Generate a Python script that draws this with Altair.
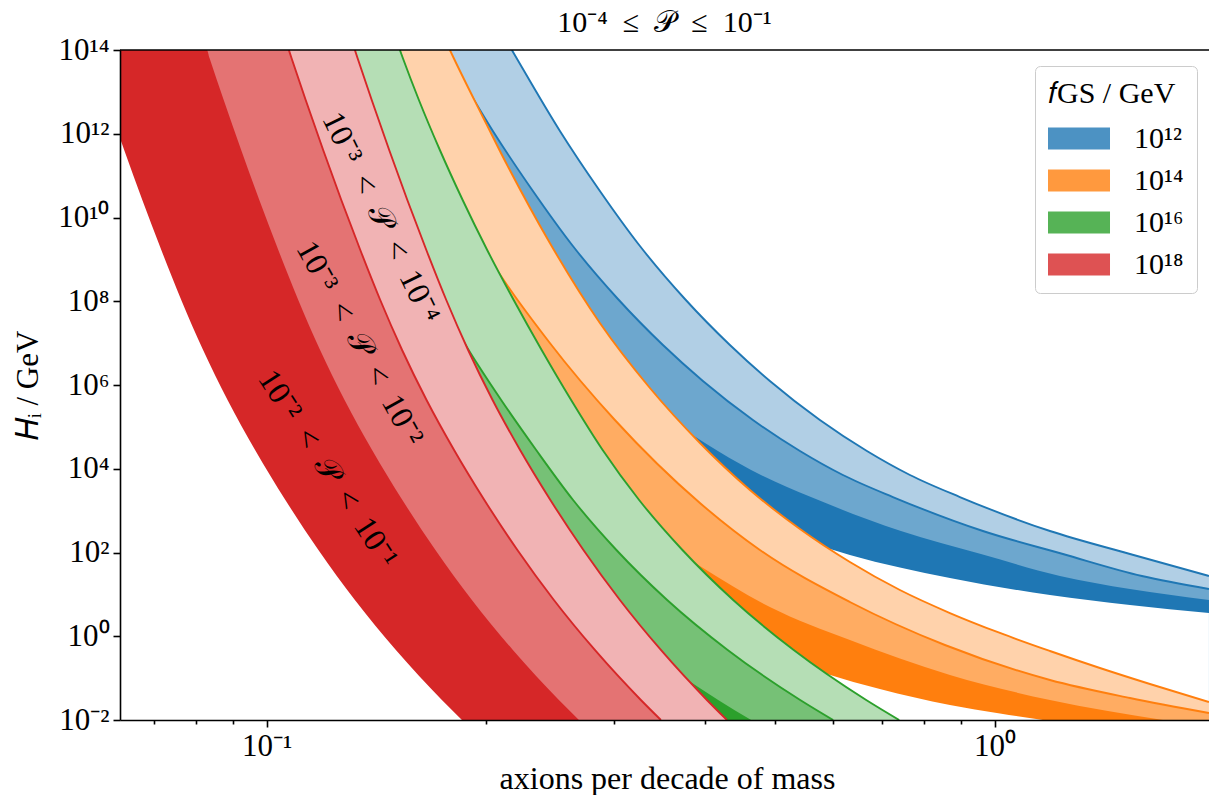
import altair as alt
import pandas as pd

FONT = "Liberation Serif"

# ---------------- axis ranges / ticks ----------------
X_DOMAIN = [0.0629, 1.97]
Y_DOMAIN = [1e-2, 1e14]
X_MAJOR = [0.1, 1.0]
X_MAJOR_LABELS = ["10⁻¹", "10⁰"]
X_MINOR = [0.07, 0.08, 0.09, 0.2, 0.3, 0.4, 0.5, 0.6, 0.7, 0.8, 0.9]
Y_TICKS = [1e-2, 1e0, 1e2, 1e4, 1e6, 1e8, 1e10, 1e12, 1e14]
Y_TICK_LABELS = ["10⁻²", "10⁰", "10²", "10⁴", "10⁶", "10⁸", "10¹⁰", "10¹²", "10¹⁴"]

# legend
F_LABELS = ["10¹²", "10¹⁴", "10¹⁶", "10¹⁸"]

# ---------------- digitised band boundaries ----------------
# log10(axions per decade of mass) and log10(H_I / GeV)
# P1: P = 1e-1, P2: P = 1e-2, P3: P = 1e-3, P4: P = 1e-4
BLUE_P1_LX = [-1.0463, -1.0400, -0.9804, -0.9254, -0.8705, -0.8087, -0.7468, -0.6919, -0.6232, -0.5587, -0.4996, -0.4309, -0.3073, -0.2304, -0.1988, -0.0614, 0.0760, 0.1859, 0.2944]
BLUE_P1_LH = [14.0, 13.809, 12.066, 10.633, 9.319, 8.054, 6.955, 6.096, 5.164, 4.424, 3.851, 3.325, 2.513, 2.107, 1.940, 1.391, 0.985, 0.746, 0.555]
BLUE_P2_LX = [-0.8677, -0.8614, -0.8018, -0.7468, -0.6919, -0.6301, -0.5683, -0.5133, -0.4446, -0.3801, -0.3210, -0.2523, -0.1287, -0.0188, 0.0897, 0.1859, 0.2944]
BLUE_P2_LH = [14.0, 13.809, 12.066, 10.633, 9.319, 8.054, 6.955, 6.096, 5.164, 4.424, 3.851, 3.325, 2.513, 1.964, 1.439, 1.128, 0.866]
BLUE_P3_LX = [-0.7551, -0.7488, -0.6892, -0.6342, -0.5793, -0.5174, -0.4556, -0.4007, -0.3320, -0.2674, -0.2084, -0.1397, -0.0161, 0.0938, 0.2023, 0.2944]
BLUE_P3_LH = [14.0, 13.809, 12.066, 10.633, 9.319, 8.054, 6.955, 6.096, 5.164, 4.424, 3.851, 3.325, 2.513, 1.964, 1.439, 1.128]
BLUE_P4_LX = [-0.6631, -0.6567, -0.5971, -0.5422, -0.4872, -0.4254, -0.3636, -0.3087, -0.2400, -0.1754, -0.1163, -0.0477, 0.0760, 0.1859, 0.2944]
BLUE_P4_LH = [14.0, 13.809, 12.066, 10.633, 9.319, 8.054, 6.955, 6.096, 5.164, 4.424, 3.851, 3.325, 2.513, 1.964, 1.439]

ORANGE_P1_LX = [-1.1260, -1.1207, -1.0806, -1.0573, -0.9886, -0.8924, -0.8032, -0.6864, -0.6040, -0.4735, -0.3636, -0.2949, -0.2304, -0.1576, -0.0614, 0.0073, 0.0663]
ORANGE_P1_LH = [14.0, 13.809, 12.400, 11.588, 9.391, 7.003, 5.164, 3.182, 2.060, 0.866, 0.006, -0.496, -0.901, -1.260, -1.642, -1.845, -2.0]
ORANGE_P2_LX = [-0.9611, -0.9559, -0.9158, -0.8924, -0.8238, -0.7276, -0.6383, -0.5216, -0.4391, -0.4048, -0.3087, -0.1988, -0.0614, 0.0760, 0.2312]
ORANGE_P2_LH = [14.0, 13.809, 12.400, 11.588, 9.391, 7.003, 5.164, 3.182, 2.060, 1.678, 0.699, -0.090, -0.925, -1.522, -2.0]
ORANGE_P3_LX = [-0.8444, -0.8392, -0.7990, -0.7757, -0.7070, -0.6109, -0.5216, -0.4048, -0.3224, -0.1988, -0.0683, 0.0760, 0.1859, 0.2944]
ORANGE_P3_LH = [14.0, 13.809, 12.400, 11.588, 9.391, 7.003, 5.164, 3.182, 2.060, 0.818, -0.209, -1.045, -1.475, -1.833]
ORANGE_P4_LX = [-0.7482, -0.7430, -0.7029, -0.6795, -0.6109, -0.5422, -0.4735, -0.4048, -0.3361, -0.2674, -0.1988, -0.1301, -0.0614, 0.0073, 0.0760, 0.1446, 0.2133, 0.2944]
ORANGE_P4_LH = [14.0, 13.809, 12.400, 11.588, 9.391, 7.481, 5.928, 4.615, 3.493, 2.561, 1.773, 1.104, 0.555, 0.078, -0.352, -0.758, -1.140, -1.570]

GREEN_P1_LX = [-1.1850, -1.1810, -1.1589, -1.1301, -1.0988, -1.0651, -1.0287, -0.9903, -0.9498, -0.9065, -0.8564, -0.7969, -0.7272, -0.6441, -0.5445, -0.4992]
GREEN_P2_LX = [-1.0202, -1.0162, -0.9941, -0.9653, -0.9340, -0.9003, -0.8639, -0.8255, -0.7850, -0.7417, -0.6916, -0.6321, -0.5624, -0.4793, -0.3797, -0.3344]
GREEN_P3_LX = [-0.9213, -0.9173, -0.8952, -0.8663, -0.8344, -0.8001, -0.7623, -0.7225, -0.6778, -0.6297, -0.5790, -0.5195, -0.4498, -0.3667, -0.2671, -0.2218]
GREEN_P4_LX = [-0.8169, -0.8129, -0.7908, -0.7620, -0.7307, -0.6970, -0.6606, -0.6222, -0.5817, -0.5384, -0.4883, -0.4288, -0.3591, -0.2760, -0.1764, -0.1311]
GREEN_LH = [14.0, 13.809, 12.806, 11.612, 10.418, 9.224, 8.030, 6.836, 5.642, 4.448, 3.254, 2.060, 0.866, -0.328, -1.522, -2.0]

RED_P1_LX = [-1.2015, -1.1956, -1.1707, -1.1446, -1.1172, -1.0872, -1.0536, -1.0158, -0.9742, -0.9288, -0.8787, -0.8224, -0.7592, -0.7317]
RED_P1_LH = [11.899, 11.612, 10.418, 9.224, 8.030, 6.836, 5.642, 4.448, 3.254, 2.060, 0.866, -0.328, -1.522, -2.0]
RED_P2_LX = [-1.0820, -1.0784, -1.0589, -1.0349, -1.0100, -0.9839, -0.9565, -0.9265, -0.8929, -0.8551, -0.8135, -0.7681, -0.7180, -0.6617, -0.5985, -0.5710]
RED_P3_LX = [-0.9694, -0.9658, -0.9463, -0.9223, -0.8974, -0.8713, -0.8439, -0.8139, -0.7803, -0.7425, -0.7009, -0.6555, -0.6054, -0.5491, -0.4859, -0.4584]
RED_P4_LX = [-0.8787, -0.8751, -0.8556, -0.8316, -0.8067, -0.7806, -0.7532, -0.7232, -0.6896, -0.6518, -0.6102, -0.5648, -0.5147, -0.4584, -0.3952, -0.3677]
RED_LH = [14.0, 13.809, 12.806, 11.612, 10.418, 9.224, 8.030, 6.836, 5.642, 4.448, 3.254, 2.060, 0.866, -0.328, -1.522, -2.0]

# band annotations
ANNOT_TEXT = ["10⁻³ < 𝒫 < 10⁻⁴", "10⁻³ < 𝒫 < 10⁻²", "10⁻² < 𝒫 < 10⁻¹"]
ANNOT_X = [0.1436, 0.1343, 0.1214]
ANNOT_H = [1.0e10, 1.0e7, 1.0e4]
ANNOT_ANGLE = [64, 61, 57]

TITLE = "10⁻⁴ ≤ 𝒫 ≤ 10⁻¹"

# ---------------- styles ----------------
STYLE = {
    "blue":   {"light": "#b1cfe5", "medium": "#6da7ce", "dark": "#1f77b4", "swatch": "#4c92c3"},
    "orange": {"light": "#ffd2ab", "medium": "#ffac62", "dark": "#ff7f0e", "swatch": "#ff993e"},
    "green":  {"light": "#b5deb5", "medium": "#76c176", "dark": "#2ca02c", "swatch": "#56b356"},
    "red":    {"light": "#f1b3b4", "medium": "#e47373", "dark": "#d62728", "swatch": "#de5253"},
}

GROUPS = [
    ("blue", (BLUE_P1_LX, BLUE_P1_LH), (BLUE_P2_LX, BLUE_P2_LH), (BLUE_P3_LX, BLUE_P3_LH), (BLUE_P4_LX, BLUE_P4_LH)),
    ("orange", (ORANGE_P1_LX, ORANGE_P1_LH), (ORANGE_P2_LX, ORANGE_P2_LH), (ORANGE_P3_LX, ORANGE_P3_LH), (ORANGE_P4_LX, ORANGE_P4_LH)),
    ("green", (GREEN_P1_LX, GREEN_LH), (GREEN_P2_LX, GREEN_LH), (GREEN_P3_LX, GREEN_LH), (GREEN_P4_LX, GREEN_LH)),
    ("red", (RED_P1_LX, RED_P1_LH), (RED_P2_LX, RED_LH), (RED_P3_LX, RED_LH), (RED_P4_LX, RED_LH)),
]


def curve_frame(lx, lh, fill_top):
    xs = [10 ** v for v in lx]
    hs = [10 ** v for v in lh]
    if fill_top and hs[0] >= Y_DOMAIN[1] and xs[0] > X_DOMAIN[0]:
        xs = [X_DOMAIN[0]] + xs
        hs = [Y_DOMAIN[1]] + hs
    return pd.DataFrame({"x": xs, "H": hs})


def spaced(s):
    # wider math-like spacing around relations
    return s.replace(" ", "\u2002")


lg = "(log(datum.value)/LN10)"
major_test = f"abs({lg} - round({lg})) < 0.01"
x_label_expr = (
    f"{major_test} ? [" + ",".join(f"'{s}'" for s in X_MAJOR_LABELS) + f"][round({lg})+1] : ''"
)
y_label_expr = "[" + ",".join(f"'{s}'" for s in Y_TICK_LABELS) + f"][round({lg}/2)+1]"

axis_common = dict(
    grid=False, zindex=1, domainColor="black", domainWidth=1.6, tickColor="black",
    tickWidth=1.6, labelFont=FONT, labelColor="black", labelFontSize=31,
    titleFont=FONT, titleColor="black", titleFontWeight="normal",
    labelOverlap=False, labelFlush=False, labelPadding=4,
)

x_axis = alt.Axis(
    values=X_MAJOR + X_MINOR,
    labelExpr=x_label_expr,
    tickSize={"condition": {"test": major_test, "value": 7}, "value": 4},
    title="axions per decade of mass", titleFontSize=32,
    titleX=547, titleY=58, titleAlign="center", titleBaseline="middle",
    **axis_common,
)
y_axis = alt.Axis(
    values=Y_TICKS,
    labelExpr=y_label_expr,
    tickSize=7,
    title="𝐻ᵢ / GeV", titleFontSize=31,
    titleX=-92, titleY=335, titleAngle=270, titleAlign="center", titleBaseline="middle",
    **axis_common,
)

x_scale = alt.Scale(type="log", domain=X_DOMAIN, nice=False)
y_scale = alt.Scale(type="log", domain=Y_DOMAIN, nice=False)
X_ENC = alt.X("x:Q", scale=x_scale, axis=x_axis)
Y_ENC = alt.Y("H:Q", scale=y_scale, axis=y_axis)

layers = []
for name, p1, p2, p3, p4 in GROUPS:
    st = STYLE[name]
    for (lx, lh), col in [(p4, st["light"]), (p3, st["medium"]), (p2, st["dark"]), (p1, "#ffffff")]:
        layers.append(
            alt.Chart(curve_frame(lx, lh, True))
            .mark_area(color=col, clip=True, opacity=1, interpolate="monotone")
            .encode(x=X_ENC, y=Y_ENC, y2=alt.datum(Y_DOMAIN[0]))
        )
    for lx, lh in [p4, p3]:
        layers.append(
            alt.Chart(curve_frame(lx, lh, False))
            .mark_line(color=st["dark"], strokeWidth=1.9, clip=True, interpolate="monotone")
            .encode(x=X_ENC, y=Y_ENC)
        )

for t, xv, hv, ang in zip(ANNOT_TEXT, ANNOT_X, ANNOT_H, ANNOT_ANGLE):
    layers.append(
        alt.Chart(pd.DataFrame({"x": [xv], "H": [hv], "t": [spaced(t)]}))
        .mark_text(angle=ang, font=FONT, fontSize=32, color="black", align="center", baseline="middle")
        .encode(x=X_ENC, y=Y_ENC, text="t:N")
    )

# top spine
layers.append(
    alt.Chart(pd.DataFrame({"k": [0]}))
    .mark_rule(color="black", strokeWidth=1.6)
    .encode(x=alt.value(0), x2=alt.value(1089), y=alt.value(0))
)

# legend carrier (invisible marks)
legend_path = "M-1,-0.512H1.884V0.512H-1Z"
layers.append(
    alt.Chart(pd.DataFrame({"f": F_LABELS}))
    .mark_square(opacity=0, size=1)
    .encode(
        color=alt.Color(
            "f:N",
            scale=alt.Scale(domain=F_LABELS, range=[STYLE[g[0]]["swatch"] for g in GROUPS]),
            sort=F_LABELS,
            legend=alt.Legend(
                title="𝑓GS / GeV", orient="none", legendX=915, legendY=16,
                symbolType=legend_path, symbolSize=1849, symbolOpacity=1, symbolStrokeWidth=0,
                labelFont=FONT, labelFontSize=30, labelColor="black", labelOffset=43,
                titleFont=FONT, titleFontSize=30, titleFontWeight="normal", titleColor="black",
                titlePadding=8, padding=13, rowPadding=5, strokeColor="#cccccc",
                fillColor="white", cornerRadius=5,
            ),
        )
    )
)

chart = (
    alt.layer(*layers)
    .properties(
        width=1089, height=670,
        title=alt.TitleParams(spaced(TITLE), font=FONT, fontSize=30, fontWeight="normal",
                              anchor="middle", offset=-4, color="black"),
        autosize=alt.AutoSizeParams(type="none"),
        padding={"left": 120, "top": 50, "right": 0, "bottom": 75},
    )
    .configure_view(stroke="transparent")
)

chart.save("out.html", embed_options={"renderer": "svg", "actions": False})
